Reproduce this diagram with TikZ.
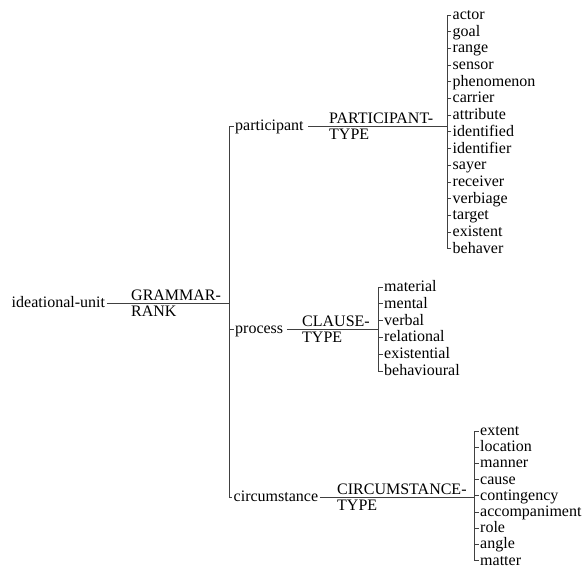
\documentclass[tikz,border=0pt]{standalone}
\usepackage{fontspec}
\setmainfont{Liberation Serif}
\usepackage{tikz}

\begin{document}
\begin{tikzpicture}[x=1pt, y=-1pt,
	item/.style={anchor=west, inner xsep=1.5pt, inner ysep=0pt, text height=11.5pt, text depth=2.5pt, font=\fontsize{16}{16}\selectfont},
	typelabel/.style={anchor=west, inner sep=0pt, align=left, font=\fontsize{16}{16}\selectfont},
	branch/.style={draw=black!75, line width=0.9pt}]
			% Frame
			\useasboundingbox (0,0) rectangle (584,569);
			
			% Root and rank
			\node[item] (unit) at (10,303) {ideational-unit};
			\node[typelabel] (rank) at (131,303) {GRAMMAR-\\RANK};
			\coordinate (rj) at (229,303);
			\draw[branch] (unit.east) -- (rj);
			
			% Second level
			\node[item] (part) at (233.5,126) {participant};
			\node[item] (proc) at (233.5,329.5) {process};
			\node[item] (circ) at (232,497) {circumstance};
			\draw[branch] (part.west) -- (rj |- part.west) -- (rj |- circ.west) -- (circ.west);
			\draw[branch] (proc.west) -- (rj |- proc.west);
			
			% Type labels
			\node[typelabel] (ptype) at (329,126) {PARTICIPANT-\\TYPE};
			\node[typelabel] (ctype) at (302,329.5) {CLAUSE-\\TYPE};
			\node[typelabel] (stype) at (337,497) {CIRCUMSTANCE-\\TYPE};
			\coordinate (pj) at (447,126);
			\coordinate (cj) at (378,329.5);
			\coordinate (sj) at (474,497);
			\draw[branch] ([xshift=3pt]part.east) -- (pj);
			\draw[branch] ([xshift=2pt]proc.east) -- (cj);
			\draw[branch] (circ.east) -- (sj);
			
			% Participant types
			\foreach \w [count=\k from 0] in {actor, goal, range, sensor, phenomenon, carrier, attribute, identified, identifier, sayer, receiver, verbiage, target, existent, behaver}
				\node[item] (p\k) at (451,{15+16.7*\k}) {\w};
			\draw[branch] (p0.west) -- (pj |- p0.west) -- (pj |- p14.west) -- (p14.west);
			\foreach \k in {1,...,13}
				\draw[branch] (p\k.west) -- (pj |- p\k.west);
			
			% Clause types
			\foreach \w [count=\k from 0] in {material, mental, verbal, relational, existential, behavioural}
				\node[item] (c\k) at (382.5,{287+16.8*\k}) {\w};
			\draw[branch] (c0.west) -- (cj |- c0.west) -- (cj |- c5.west) -- (c5.west);
			\foreach \k in {1,...,4}
				\draw[branch] (c\k.west) -- (cj |- c\k.west);
			
			% Circumstance types
			\foreach \w [count=\k from 0] in {extent, location, manner, cause, contingency, accompaniment, role, angle, matter}
				\node[item] (s\k) at (478.5,{431+16.2*\k}) {\w};
			\draw[branch] (s0.west) -- (sj |- s0.west) -- (sj |- s8.west) -- (s8.west);
			\foreach \k in {1,...,7}
				\draw[branch] (s\k.west) -- (sj |- s\k.west);
		\end{tikzpicture}
\end{document}
